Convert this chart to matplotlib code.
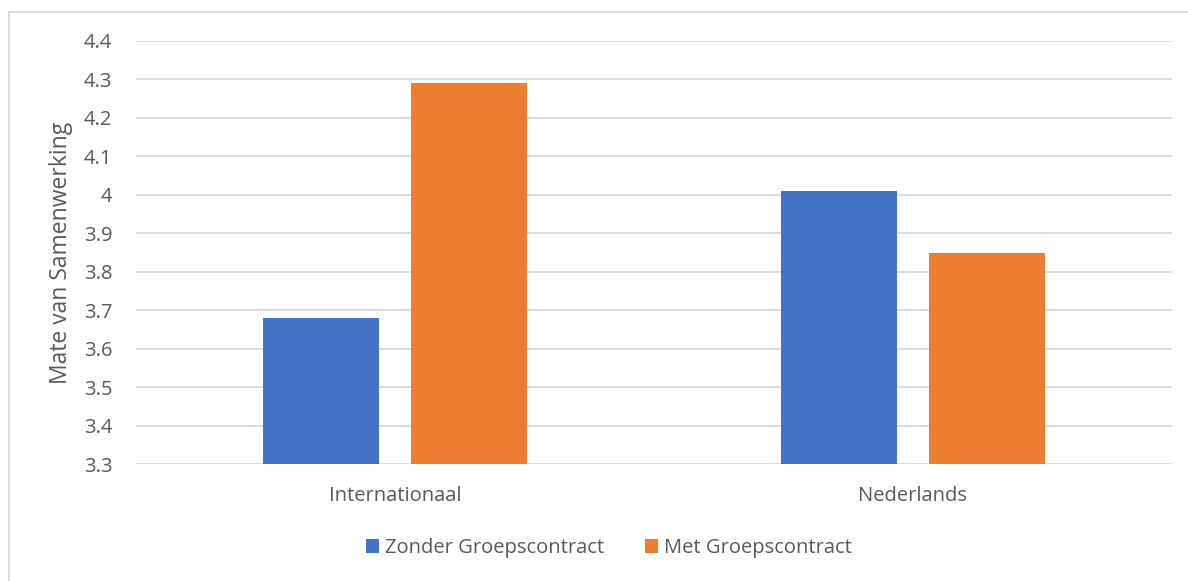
import matplotlib.pyplot as plt
import numpy as np
from matplotlib.patches import Rectangle

# data
categories = ['Internationaal', 'Nederlands']
zonder = [3.68, 4.01]
met = [4.29, 3.85]
series_names = ['Zonder Groepscontract', 'Met Groepscontract']

blue = '#4472C4'
orange = '#ED7D31'
txt = '#595959'

plt.rcParams['font.family'] = ['Open Sans', 'DejaVu Sans']

fig = plt.figure(figsize=(11.88, 5.81), dpi=100)
ax = fig.add_axes([136/1188, 1-464/581, (1172-136)/1188, (464-41)/581])

x = np.arange(len(categories))
w = 0.224
off = 0.143
ax.bar(x - off, [v - 3.3 for v in zonder], w, bottom=3.3, color=blue, label=series_names[0], zorder=3)
ax.bar(x + off, [v - 3.3 for v in met], w, bottom=3.3, color=orange, label=series_names[1], zorder=3)

ax.set_xlim(-0.5, 1.5)
ax.set_ylim(3.3, 4.4)
ticks = np.round(np.arange(3.3, 4.41, 0.1), 1)
ax.set_yticks(ticks)
ax.set_yticklabels(['4' if t == 4.0 else f'{t:.1f}' for t in ticks])
ax.set_xticks(x)
ax.set_xticklabels(categories)
ax.tick_params(axis='both', length=0, labelsize=14.5, colors=txt)
ax.tick_params(axis='y', pad=17)
ax.tick_params(axis='x', pad=16)
ax.grid(axis='y', color='#D9D9D9', linewidth=1.3, zorder=0)
for s in ax.spines.values():
    s.set_visible(False)
ax.set_ylabel('Mate van Samenwerking', fontsize=16.5, color=txt, labelpad=8)

# legend sits centred in the chart area, not the plot area
leg = fig.legend(*ax.get_legend_handles_labels(), loc='center', bbox_to_anchor=(609/1188, 1-548/581),
                 ncol=2, frameon=False, fontsize=14.5, handlelength=0.65, handleheight=0.65,
                 handletextpad=0.3, columnspacing=2.0)
for t in leg.get_texts():
    t.set_color(txt)

fig.patches.append(Rectangle((9/1188, -0.1), 1.2, 1-12/581+0.1, transform=fig.transFigure,
                             fill=False, edgecolor='#D9D9D9', linewidth=1.3))

plt.savefig('out.png', dpi=100)
